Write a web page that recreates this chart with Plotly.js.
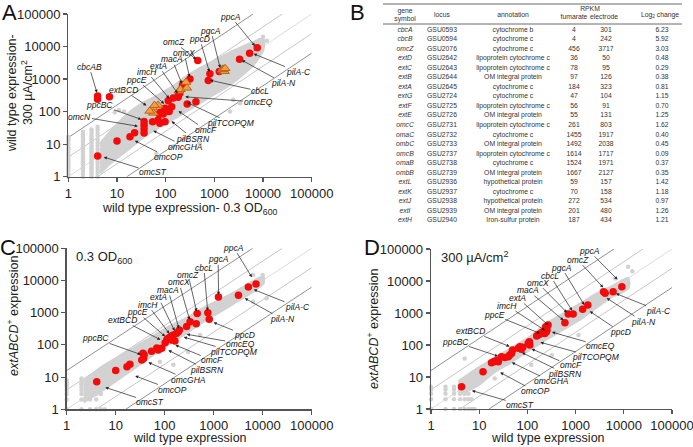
<!DOCTYPE html>
<html><head><meta charset="utf-8">
<script src="https://cdn.plot.ly/plotly-3.0.1.min.js"></script>
<style>html,body{margin:0;padding:0;background:#fff}#chart{width:693px;height:447px}</style>
</head><body><div id="chart"></div>
<script>
// ---------- Table (panel B) ----------
const geneSymbol = ['cbcA','cbcB','omcZ','extD','extC','extB','extA','extG','extF','extE','omcC','omaC','ombC','omcB','omaB','ombB','extL','extK','extJ','extI','extH'];
const locus = ['GSU0593','GSU0594','GSU2076','GSU2642','GSU2643','GSU2644','GSU2645','GSU2724','GSU2725','GSU2726','GSU2731','GSU2732','GSU2733','GSU2737','GSU2738','GSU2739','GSU2936','GSU2937','GSU2938','GSU2939','GSU2940'];
const annotation = ['cytochrome b','cytochrome c','cytochrome c','lipoprotein cytochrome c','lipoprotein cytochrome c','OM integral protein','cytochrome c','cytochrome c','lipoprotein cytochrome c','OM integral protein','lipoprotein cytochrome c','cytochrome c','OM integral protein','lipoprotein cytochrome c','cytochrome c','OM integral protein','hypothetical protein','cytochrome c','hypothetical protein','OM integral protein','Iron-sulfur protein'];
const rpkmFumarate = [4,4,456,36,78,97,184,47,56,55,261,1455,1492,1614,1524,1667,59,70,272,201,187];
const rpkmElectrode = [301,242,3717,50,95,126,323,104,91,131,803,1917,2038,1717,1971,2127,157,158,534,480,434];
const log2Change = ['6.23','5.92','3.03','0.48','0.29','0.38','0.81','1.15','0.70','1.25','1.62','0.40','0.45','0.09','0.37','0.35','1.42','1.18','0.97','1.26','1.21'];

// ---------- Panel A: wild type 0.3 OD600 (x) vs 300 uA/cm2 (y) ----------
const redA_x = [4,4,7,4,10,18.5,23,36,36,36,36,54,70,76,74,89,97,78,97,113,143,133,118,181,184,195,222,277,418,315,456,750,810,1260,3300,5300,7600];
const redA_y = [301,242,285,4.3,12.5,17,22.6,50,38,29,22,49,55,44,85,85,49,95,126,217,260,142,100,276,323,365,660,172,202,1000,3717,900,1450,1700,4100,6200,9200];
const triGenesA = ['extE','extF','extG','extH','extI','extJ','extK','extL','omcC','omaC','ombC','omcB','omaB','ombB'];
const coreA_x = [4.5,7,16,30,66,145,270,500,1120,2450,5400,10000,10000,6300,3370,1800,810,370,170,76,35,16,7.2,4.5];
const coreA_y = [10,22,80,160,300,600,1200,2100,3900,7200,12000,17000,7900,2750,1200,590,290,142,70,35,17,6.6,2.6,1.3];
const lowA_1 = [1,1.2,1.4,1.6,1.8,2,2.3,2.6,3,3.4,3.9,4.5,5.2,6,7,8,9.5,11,13,15,17];
const lowA_2 = [1,1.2,1.4,1.6,1.8,2,2.3,2.6,3,3.4,3.9,4.5,5.2,6,7,8,9.5,11,13,15,17,20,24];
const lowA_3 = [1,1.2,1.4,1.6,1.8,2,2.3,2.6,3,3.4,3.9,4.5,5.2,6,7,8,9.5,11,13,15,17,20,24,28];
const lowA_4 = [1,1.3,1.6,2,2.5,3,3.7,4.5,5.5,7,9,11,14,18,22,28,34];
const outA_x = [9,11,14,270,500,950,2100,2450,143,65,10000,8500,12000,3370];
const outA_y = [95,110,100,15,10.6,34,100,230,8.4,5.2,20000,16000,15000,180];

// ---------- Panel C: wild type (x) vs extABCD+ (y), 0.3 OD600 ----------
const redC_x = [4.1,10,17,19.5,34,36,37,38,54,69,74,87,102,110,118,128,138,150,138,162,176,190,200,280,330,440,460,760,810,1250,3200,5100,7300];
const redC_y = [7.2,16,21,25,34,55,38,49,63,80,70,79,117,142,160,172,190,203,142,133,228,257,290,370,525,455,950,1000,630,3100,3500,6300,7800];
const coreC_x = [2.2,4.8,10.5,23,50,110,240,525,1150,2500,5500,10200,10200,5500,2500,1150,525,240,110,50,23,10.5,4.8,2.2];
const coreC_y = [7.2,18.6,38,78,158,330,590,1200,2190,4000,8100,13200,8100,4000,1950,950,470,205,100,43,18.6,8.1,3.5,1.7];
const lowC_x = [1,1,1,1,1,1,1,1,2,2,2,2,2,2,2,2,3,3,3,3,3,3,3,4,4,4,4,4,5,5,6];
const lowC_y = [1,2,3,4,5,6,7,8,1,2,3,4,5,6,7,9,1,2,3,4,5,6,8,1,2,3,4,6,1,3,1];
const outC_x = [6400,10000,525,80,150,4.8,6400,12000,300,40];
const outC_y = [14800,14800,204,30,24,9.2,2200,2800,60,120];

// ---------- Panel D: wild type (x) vs extABCD+ (y), 300 uA/cm2 ----------
const redD_x = [4.3,12,18,20,21,23,25,29,34,40,43,47,49,65,70,75,80,104,110,112,156,168,181,197,212,230,248,240,268,255,600,705,890,1400,1790,3800,4100,6000,9100];
const redD_y = [5,14.7,28,30,31,32,30,43,41,43,49,55,70,79,88,73,85,113,126,100,190,205,220,241,260,230,260,373,420,295,500,930,930,1310,1780,4640,4140,4600,6600];
const coreD_x = [3.7,9.5,21,47,105,234,513,1150,2500,5600,12300,12300,5600,2500,1150,513,234,105,47,21,9.5,3.7];
const coreD_y = [7.1,18.6,38,79,162,427,870,1780,3630,6600,12000,5900,3240,1410,600,295,145,69,30,14.8,5.6,2.75];
const lowD_x = [1,2,3,4,5,6,7,8,1,2,3,4,5,6,7,1,2,3,4,5,6,1,2,3,4,5,1,2,3];
const lowD_y = [1,1,1,1,1,1,1,1,2,2,2,2,2,2,2,3,3,3,3,3,3,4,4,4,4,4,5,5,5];
const outD_x = [12300,6600,5,1150,120,21,320,15000];
const outD_y = [28000,12000,38,205,24,9,48,20000];

// fold-change guide lines
const foldRatios = [16,4,1,0.25,0.0625];
const tickVals = [1,10,100,1000,10000,100000];
const tickText = ['1','10','100','1000','10000','100000'];

// labels: [text, tip log10 x, tip log10 y, text log10 x, text log10 y]
const labelsA = [
 ['ppcA',3.86,3.97,3.34,4.92],['pgcA',3.13,3.28,2.93,4.49],['ppcD',2.91,3.16,2.70,4.24],
 ['omcZ',2.66,3.57,2.17,4.14],['omcX',2.50,3.0,2.38,3.80],['macA',2.35,2.80,2.13,3.61],
 ['extA',2.27,2.51,1.85,3.41],['imcH',2.10,2.36,1.61,3.23],['ppcE',2.0,2.2,1.41,2.98],
 ['extBCD',1.64,2.15,1.13,2.67],['cbcAB',0.60,2.52,0.43,3.38],['ppcBC',1.54,1.74,0.65,2.21],
 ['omcN',1.47,1.54,0.24,1.85],['omcST',0.69,0.62,1.74,0.13],['omcOP',1.33,1.13,2.05,0.60],
 ['omcGHA',1.71,1.44,2.41,0.92],['pilBSRN',2.09,1.74,2.56,1.17],['omcF',2.23,2.05,2.83,1.43],
 ['pilTCOPQM',2.40,2.31,3.35,1.64],['omcEQ',2.36,2.46,3.90,2.29],['cbcL',2.87,2.98,3.94,2.62],
 ['pilA-N',3.53,3.61,4.43,2.87],['pilA-C',3.77,3.80,4.72,3.22]];
const labelsC = [
 ['ppcA',3.80,4.05,3.41,5.02],['pgcA',3.10,3.49,3.09,4.66],['cbcL',2.88,3.0,2.80,4.40],
 ['omcZ',2.66,2.98,2.48,4.17],['omcX',2.52,2.72,2.29,3.94],['macA',2.30,2.45,2.07,3.71],
 ['extA',2.22,2.38,1.87,3.48],['imcH',2.12,2.30,1.65,3.25],['ppcE',2.04,2.22,1.44,3.02],
 ['extBCD',1.95,2.13,1.13,2.77],['ppcBC',1.55,1.68,0.59,2.20],['omcST',0.75,0.70,1.71,0.22],
 ['omcOP',1.36,1.06,2.16,0.60],['omcGHA',1.63,1.48,2.48,0.92],['pilBSRN',2.04,1.86,2.86,1.23],
 ['omcF',2.18,2.02,2.97,1.52],['pilTCOPQM',2.35,2.26,3.42,1.78],['omcEQ',2.41,2.34,3.54,2.04],
 ['ppcD',2.96,2.72,3.62,2.32],['pilA-N',3.60,3.48,4.40,2.80],['pilA-C',3.78,3.74,4.71,3.18]];
const labelsD = [
 ['ppcA',3.90,4.00,3.28,4.94],['omcZ',3.60,3.75,3.04,4.67],['pgcA',3.20,3.20,2.71,4.42],
 ['cbcL',2.95,3.02,2.47,4.17],['omcX',2.85,2.97,2.21,3.95],['macA',2.78,2.73,2.01,3.71],
 ['extA',2.47,2.57,1.80,3.47],['imcH',2.40,2.42,1.58,3.23],['ppcE',2.30,2.34,1.31,2.94],
 ['extBCD',1.67,1.93,0.82,2.44],['ppcBC',1.43,1.63,0.50,2.10],['omcST',0.81,0.59,1.85,0.14],
 ['omcOP',1.40,1.17,2.17,0.55],['omcGHA',1.64,1.48,2.50,0.86],['pilBSRN',1.85,1.79,2.79,1.10],
 ['omcF',2.05,1.90,2.90,1.36],['pilTCOPQM',2.23,2.10,3.42,1.61],['omcEQ',2.47,2.42,3.52,1.97],
 ['ppcD',3.26,3.09,3.94,2.40],['pilA-N',3.61,3.50,4.40,2.73],['pilA-C',3.80,3.63,4.73,3.07]];

// ---------- build ----------
const FONT = 'Liberation Sans, Arial, sans-serif';
const NARROW = 'Liberation Sans Narrow, Liberation Sans, Arial, sans-serif';
const GRAY = '#d2d2d2';
const lineColors = ['#444','#a0a0a0','#c4c4c4','#a0a0a0','#444'];
const traces = [];
function panel(xa, ya, core_x, core_y, lowX, lowY, outX, outY, redX, redY) {
  foldRatios.forEach((r, i) => {
    const x0 = Math.max(1, 1 / r), x1 = Math.min(1e5, 1e5 / r);
    traces.push({x:[x0,x1], y:[x0*r, x1*r], xaxis:xa, yaxis:ya, mode:'lines',
      line:{color:lineColors[i], width:0.6}, hoverinfo:'skip'});
  });
  traces.push({x:core_x, y:core_y, xaxis:xa, yaxis:ya, mode:'lines', fill:'toself',
    fillcolor:GRAY, line:{color:GRAY, width:3, shape:'spline', smoothing:0.6}, hoverinfo:'skip'});
  traces.push({x:lowX.concat(outX), y:lowY.concat(outY), xaxis:xa, yaxis:ya, mode:'markers',
    marker:{size:4.5, color:GRAY}, cliponaxis:false});
  traces.push({x:redX, y:redY, xaxis:xa, yaxis:ya, mode:'markers',
    marker:{size:7.5, color:'#f50a0a'}, cliponaxis:false});
}
const lowA_x = [], lowA_y = [];
[[1,lowA_1],[2,lowA_2],[3,lowA_3],[4,lowA_4]].forEach(([c, ys]) => ys.forEach(v => { lowA_x.push(c); lowA_y.push(v); }));
panel('x','y', coreA_x, coreA_y, lowA_x, lowA_y, outA_x, outA_y, redA_x, redA_y);
traces.push({
  x: triGenesA.map(g => rpkmFumarate[geneSymbol.indexOf(g)]),
  y: triGenesA.map(g => rpkmElectrode[geneSymbol.indexOf(g)]),
  xaxis:'x', yaxis:'y', mode:'markers',
  marker:{symbol:'triangle-up', size:8.5, color:'#f0a043', line:{color:'#c0621c', width:1}}});
panel('x2','y2', coreC_x, coreC_y, lowC_x, lowC_y, outC_x, outC_y, redC_x, redC_y);
panel('x3','y3', coreD_x, coreD_y, lowD_x, lowD_y, outD_x, outD_y, redD_x, redD_y);

// table as text traces on a hidden axis measured in pixels
const rowY = geneSymbol.map((g, i) => 30 + i * 9.53);
const tcols = [
  [405, geneSymbol.map(g => '<i>' + g + '</i>')],
  [442, locus], [513, annotation],
  [574, rpkmFumarate.map(String)], [606, rpkmElectrode.map(String)], [662, log2Change]];
tcols.forEach(([cx, txt]) => traces.push({
  x: txt.map(() => cx), y: rowY, text: txt, mode:'text', xaxis:'x4', yaxis:'y4',
  textfont:{size:6.8, color:'#333', family:NARROW}, textposition:'middle center', hoverinfo:'skip'}));
const hdr = [[405,11.5,'gene'],[405,19,'symbol'],[442,15,'locus'],[513,15,'annotation'],
  [590,9.5,'RPKM'],[574,17.5,'fumarate'],[604,17.5,'electrode'],[660,15,'Log<sub>2</sub> change']];
traces.push({x:hdr.map(h=>h[0]), y:hdr.map(h=>h[1]), text:hdr.map(h=>h[2]), mode:'text',
  xaxis:'x4', yaxis:'y4', textfont:{size:6.8, color:'#333', family:NARROW}, hoverinfo:'skip'});

const W = 693, H = 447;
const axBase = {type:'log', range:[0,5], showline:true, linecolor:'#555', linewidth:1.3,
  ticks:'outside', ticklen:4, tickwidth:1.2, tickcolor:'#555', showgrid:false, zeroline:false,
  tickmode:'array', tickvals:tickVals, ticktext:tickText, ticklabeloverflow:'allow',
  tickfont:{size:13, color:'#222', family:FONT}, fixedrange:true};
function ax(domain, anchor) { return Object.assign({}, axBase, {domain, anchor}); }

const ann = [];
function addLabels(list, xr, yr) {
  list.forEach(([t, tx, ty, lx, ly]) => ann.push({xref:xr, yref:yr, axref:xr, ayref:yr,
    x:tx, y:ty, ax:lx, ay:ly, text:'<i>' + t + '</i>', showarrow:true, arrowhead:2,
    arrowsize:0.9, arrowwidth:0.7, arrowcolor:'#222', standoff:2, borderpad:0,
    font:{size:8.5, color:'#111', family:FONT}}));
}
addLabels(labelsA, 'x', 'y');
addLabels(labelsC, 'x2', 'y2');
addLabels(labelsD, 'x3', 'y3');
function pt(px, py, text, opts) {
  ann.push(Object.assign({xref:'paper', yref:'paper', x:px/W, y:1-py/H, text, showarrow:false,
    xanchor:'center', yanchor:'middle', borderpad:0, font:{size:12.5, color:'#222', family:FONT}}, opts || {}));
}
const big = {font:{size:22, color:'#111', family:FONT}};
pt(9, 13, 'A', big); pt(357, 13, 'B', big); pt(8, 247, 'C', big); pt(372, 247, 'D', big);
pt(190, 209, 'wild type expression- 0.3 OD<sub>600</sub>');
pt(20, 93, 'wild type expression-<br>300 µA/cm<sup>2</sup>', {textangle:-90});
pt(190, 438, 'wild type expression');
pt(13, 316, '<i>extABCD</i><sup>+</sup> expression', {textangle:-90});
pt(548, 438, 'wild type expression');
pt(373, 328, '<i>extABCD</i><sup>+</sup> expression', {textangle:-90});
pt(75, 257, '0.3 OD<sub>600</sub>', {xanchor:'left', font:{size:13, color:'#222', family:FONT}});
pt(440, 257, '300 µA/cm<sup>2</sup>', {xanchor:'left', font:{size:13, color:'#222', family:FONT}});

const shapes = [4, 24].map(yv => ({type:'line', xref:'x4', yref:'y4', x0:383, x1:682, y0:yv, y1:yv,
  line:{color:'#444', width:0.8}}));

const layout = {
  width:W, height:H, margin:{l:0,r:0,t:0,b:0}, paper_bgcolor:'#fff', plot_bgcolor:'rgba(0,0,0,0)',
  showlegend:false, hovermode:false,
  xaxis: ax([68.3/W, 311.7/W], 'y'), yaxis: ax([1-176.7/H, 1-14/H], 'x'),
  xaxis2: ax([66.7/W, 311.7/W], 'y2'), yaxis2: ax([1-409.3/H, 1-248.3/H], 'x2'),
  xaxis3: ax([431/W, 672/W], 'y3'), yaxis3: ax([1-409/H, 1-249/H], 'x3'),
  xaxis4: {domain:[350/W, 1], range:[350, 693], visible:false, fixedrange:true, anchor:'y4'},
  yaxis4: {domain:[1-235/H, 1], range:[235, 0], visible:false, fixedrange:true, anchor:'x4'},
  annotations: ann, shapes: shapes
};
Plotly.newPlot('chart', traces, layout, {staticPlot:true, displayModeBar:false});
</script></body></html>
